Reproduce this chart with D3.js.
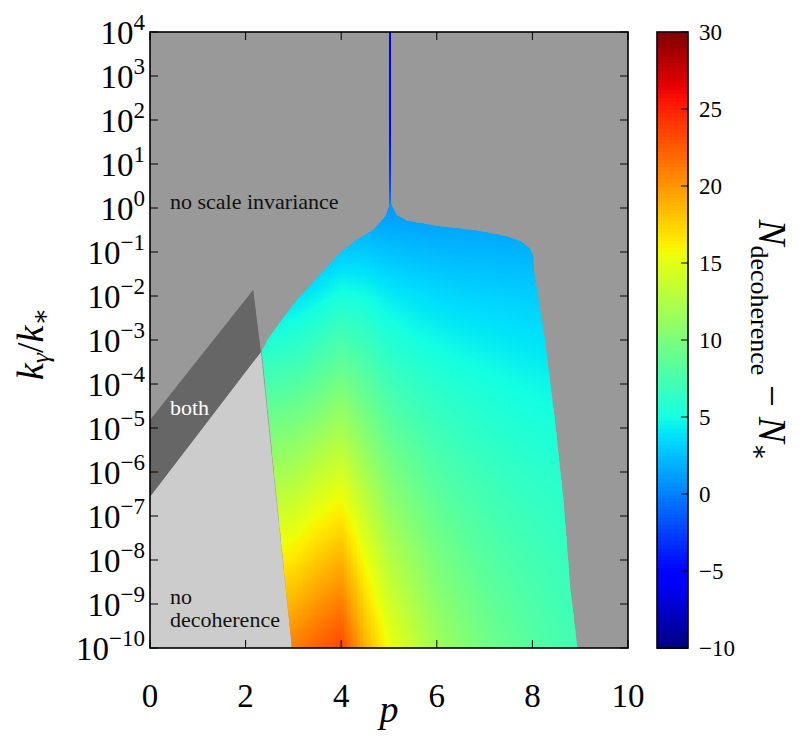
<!DOCTYPE html>
<html><head><meta charset="utf-8">
<script src="https://cdn.jsdelivr.net/npm/d3@7"></script>
<style>
body{margin:0;background:#fff}
svg{display:block}
svg text{font-family:"Liberation Serif","DejaVu Serif","Noto Serif","Times New Roman",serif !important;fill:#000}
</style>
</head><body>
<svg id="chart" width="801" height="750" font-family="Liberation Serif, DejaVu Serif, serif"></svg>
<script>
// ---------------- data ----------------
const pGrid = [2.25, 2.5, 3, 3.5, 4, 4.5, 5, 5.5, 6, 6.5, 7, 7.5, 8, 8.5, 9];
const logkGrid = [-10, -8, -6, -4, -2, 0];
// N_decoherence - N_*; rows follow logkGrid, columns follow pGrid
const nRowM10 = [19.9, 20.4, 21.1, 22.4, 23.5, 19.0, 15.6, 13.7, 11.8, 10.7, 9.6, 8.9, 8.2, 7.6, 7.2];
const nRowM8  = [15.8, 16.2, 16.7, 17.9, 18.9, 15.6, 12.9, 11.4, 10.0, 9.1, 8.3, 7.7, 7.3, 6.9, 6.6];
const nRowM6  = [11.6, 11.9, 12.3, 13.4, 14.3, 12.1, 10.1, 9.0, 8.0, 7.4, 6.9, 6.5, 6.2, 6.0, 5.7];
const nRowM4  = [7.5, 7.7, 8.0, 8.8, 9.8, 8.6, 7.2, 6.5, 6.0, 5.6, 5.3, 5.0, 4.8, 4.6, 4.4];
const nRowM2  = [3.4, 3.5, 3.8, 4.5, 5.3, 5.0, 4.3, 3.9, 3.6, 3.4, 3.3, 3.2, 3.1, 3.0, 2.9];
const nRow0   = [-0.6, -0.6, -0.5, 0.1, 0.8, 1.0, 1.0, 1.0, 1.0, 1.0, 1.0, 1.0, 1.0, 1.0, 1.0];
const nValues = [nRowM10, nRowM8, nRowM6, nRowM4, nRowM2, nRow0];

// outline of the region where decoherence happens with scale invariance
const regionP    = [2.97, 2.34, 2.47, 2.72, 3.07, 3.59, 3.97, 4.32, 4.67, 4.92, 5.0, 5.02, 5.16, 5.37, 6.0, 6.55, 6.97, 7.46, 7.78, 7.95, 8.02, 8.03, 8.26, 8.47, 8.65, 8.79, 8.94];
const regionLogk = [-10, -3.25, -2.98, -2.6, -2.09, -1.48, -1.03, -0.73, -0.5, -0.2, 0.03, 0.14, -0.16, -0.29, -0.41, -0.48, -0.54, -0.64, -0.77, -0.92, -1.11, -1.41, -2.98, -4.82, -6.64, -8.61, -10];

// thin spike at p = 5
const spikeP = 5.0;
const spikeLogk   = [0.1, 0.4, 0.8, 1.5, 2.5, 4];
const spikeValues = [0.5, -1.5, -3.0, -4.5, -5.5, -6.5];

// "both" band and "no decoherence" area
const bothP = [0, 0, 2.16, 2.32];
const bothLogk = [-6.56, -4.82, -1.86, -3.27];
const noDecP = [0, 0, 2.32, 2.97];
const noDecLogk = [-10, -6.56, -3.27, -10];

const xTicks = [0, 2, 4, 6, 8, 10];
const yTickExps = [-10, -9, -8, -7, -6, -5, -4, -3, -2, -1, 0, 1, 2, 3, 4];
const cbTicks = [-10, -5, 0, 5, 10, 15, 20, 25, 30];

// ---------------- setup ----------------
const FONT = "Liberation Serif, DejaVu Serif, serif";
const svg = d3.select("#chart");
const x = d3.scaleLinear().domain([0, 10]).range([150, 628]);
const y = d3.scaleLog().domain([1e-10, 1e4]).range([648, 32]);
const yL = L => y(Math.pow(10, L));

// jet colormap
const jetStops = [0, 0.11, 0.125, 0.34, 0.35, 0.375, 0.64, 0.65, 0.66, 0.89, 0.91, 1];
const jetCols = ["rgb(0,0,128)","rgb(0,0,255)","rgb(0,0,255)","rgb(0,219,255)","rgb(0,229,247)","rgb(20,255,226)",
  "rgb(238,255,8)","rgb(247,245,0)","rgb(255,236,0)","rgb(255,19,0)","rgb(232,0,0)","rgb(128,0,0)"];
const color = d3.scaleLinear().domain(jetStops.map(t => -10 + 40 * t)).range(jetCols)
  .interpolate(d3.interpolateRgb).clamp(true);

function lookup(p, L) {
  p = Math.max(pGrid[0], Math.min(pGrid[pGrid.length - 1], p));
  L = Math.max(logkGrid[0], Math.min(logkGrid[logkGrid.length - 1], L));
  let i = d3.bisectRight(pGrid, p) - 1; i = Math.max(0, Math.min(pGrid.length - 2, i));
  let j = d3.bisectRight(logkGrid, L) - 1; j = Math.max(0, Math.min(logkGrid.length - 2, j));
  const tp = (p - pGrid[i]) / (pGrid[i + 1] - pGrid[i]);
  const tl = (L - logkGrid[j]) / (logkGrid[j + 1] - logkGrid[j]);
  const a = nValues[j][i], b = nValues[j][i + 1], c = nValues[j + 1][i], d = nValues[j + 1][i + 1];
  return (a * (1 - tp) + b * tp) * (1 - tl) + (c * (1 - tp) + d * tp) * tl;
}

// background
svg.append("rect").attr("x", x(0)).attr("y", y(1e4)).attr("width", x(10) - x(0)).attr("height", y(1e-10) - y(1e4)).attr("fill", "#999999");

const poly = (ps, ls) => ps.map((p, i) => [x(p), yL(ls[i])]);
const line = d3.line();
svg.append("path").attr("d", line(poly(noDecP, noDecLogk)) + "Z").attr("fill", "#cccccc");
svg.append("path").attr("d", line(poly(bothP, bothLogk)) + "Z").attr("fill", "#666666");

// heatmap
const defs = svg.append("defs");
defs.append("clipPath").attr("id", "regclip").append("path").attr("d", line(poly(regionP, regionLogk)) + "Z");
defs.append("clipPath").attr("id", "plotclip").append("rect").attr("x", 150).attr("y", 32).attr("width", 478).attr("height", 616);
const cells = [];
const dp = 0.05, dl = 0.05;
for (let p = 2.3; p < 9.0; p += dp) {
  for (let L = -10; L < 0.2; L += dl) {
    cells.push({p, L, v: lookup(p + dp / 2, L + dl / 2)});
  }
}
svg.append("g").attr("clip-path", "url(#regclip)").attr("shape-rendering", "crispEdges")
  .selectAll("rect").data(cells).join("rect")
  .attr("x", d => x(d.p)).attr("y", d => yL(d.L + dl))
  .attr("width", d => x(d.p + dp) - x(d.p) + 0.7)
  .attr("height", d => yL(d.L) - yL(d.L + dl) + 0.7)
  .attr("fill", d => color(d.v));

// spike
const spikeCells = [];
for (let k = 0; k < spikeLogk.length - 1; k++) {
  const n = 20;
  for (let s = 0; s < n; s++) {
    const L0 = spikeLogk[k] + (spikeLogk[k + 1] - spikeLogk[k]) * s / n;
    const L1 = spikeLogk[k] + (spikeLogk[k + 1] - spikeLogk[k]) * (s + 1) / n;
    const v = spikeValues[k] + (spikeValues[k + 1] - spikeValues[k]) * (s + 0.5) / n;
    spikeCells.push({L0, L1, v});
  }
}
svg.append("g").attr("clip-path", "url(#plotclip)").attr("shape-rendering", "crispEdges")
  .selectAll("rect").data(spikeCells).join("rect")
  .attr("x", x(spikeP)).attr("width", 2)
  .attr("y", d => yL(d.L1)).attr("height", d => yL(d.L0) - yL(d.L1) + 0.6)
  .attr("fill", d => color(d.v));

// helper for text
const T = (sel) => sel.append("text").attr("font-family", FONT);

// region labels
T(svg).attr("x", 170).attr("y", 209).attr("font-size", 22).style("fill", "#111").text("no scale invariance");
T(svg).attr("x", 170).attr("y", 415).attr("font-size", 22).style("fill", "#fff").text("both");
T(svg).attr("x", 170).attr("y", 604).attr("font-size", 22).style("fill", "#111").text("no");
T(svg).attr("x", 170).attr("y", 627).attr("font-size", 22).style("fill", "#111").text("decoherence");

// axes frame and ticks
const ax = svg.append("g");
ax.append("rect").attr("x", 150).attr("y", 32).attr("width", 478).attr("height", 616)
  .attr("fill", "none").attr("stroke", "#000").attr("stroke-width", 1.6);
xTicks.forEach(t => {
  ax.append("line").attr("x1", x(t)).attr("x2", x(t)).attr("y1", 648).attr("y2", 640).attr("stroke", "#000");
  ax.append("line").attr("x1", x(t)).attr("x2", x(t)).attr("y1", 32).attr("y2", 40).attr("stroke", "#000");
  T(ax).attr("x", x(t)).attr("y", 707).attr("text-anchor", "middle").attr("font-size", 33).text(t);
});
yTickExps.forEach(e => {
  const ty = y(Math.pow(10, e));
  ax.append("line").attr("x1", 150).attr("x2", 158).attr("y1", ty).attr("y2", ty).attr("stroke", "#000");
  ax.append("line").attr("x1", 628).attr("x2", 620).attr("y1", ty).attr("y2", ty).attr("stroke", "#000");
  const t = T(ax).attr("x", 145).attr("y", ty + 12).attr("text-anchor", "end").attr("font-size", 33);
  t.append("tspan").text("10");
  t.append("tspan").attr("dy", -14).attr("font-size", 23).text(e < 0 ? "\u2212" + (-e) : String(e));
});
T(svg).attr("x", x(5)).attr("y", 722).attr("text-anchor", "middle")
  .attr("font-size", 38).attr("font-style", "italic").text("p");
const yl = T(svg).attr("transform", "translate(43,344) rotate(-90)").attr("text-anchor", "middle")
  .attr("font-size", 38).attr("font-style", "italic");
yl.append("tspan").text("k");
yl.append("tspan").attr("font-size", 26).attr("dy", 6).text("\u03b3");
yl.append("tspan").attr("dy", -6).attr("font-style", "normal").text("/");
yl.append("tspan").text("k");
yl.append("tspan").attr("font-size", 26).attr("dy", 6).attr("font-style", "normal").text("\u2217");

// colorbar
const cbX = 657, cbW = 31;
const cy = d3.scaleLinear().domain([-10, 30]).range([648, 32]);
const cbVals = d3.range(-10, 30, 0.25);
svg.append("g").attr("shape-rendering", "crispEdges").selectAll("rect").data(cbVals).join("rect")
  .attr("x", cbX).attr("width", cbW)
  .attr("y", d => cy(d + 0.25)).attr("height", d => cy(d) - cy(d + 0.25) + 0.6)
  .attr("fill", d => color(d + 0.125));
svg.append("rect").attr("x", cbX).attr("y", 32).attr("width", cbW).attr("height", 616)
  .attr("fill", "none").attr("stroke", "#000").attr("stroke-width", 1.6);
cbTicks.forEach(t => {
  svg.append("line").attr("x1", cbX + cbW).attr("x2", cbX + cbW - 7).attr("y1", cy(t)).attr("y2", cy(t)).attr("stroke", "#000");
  T(svg).attr("x", 699).attr("y", cy(t) + 8).attr("font-size", 23).text(t < 0 ? "\u2212" + (-t) : t);
});
const cl = T(svg).attr("transform", "translate(759,340) rotate(90)").attr("text-anchor", "middle")
  .attr("font-size", 39);
cl.append("tspan").attr("font-style", "italic").text("N");
cl.append("tspan").attr("font-size", 26).attr("dy", 8).text("decoherence");
cl.append("tspan").attr("dy", -8).text(" \u2212 ");
cl.append("tspan").attr("font-style", "italic").text("N");
cl.append("tspan").attr("font-size", 26).attr("dy", 8).text("\u2217");
</script>
</body></html>
